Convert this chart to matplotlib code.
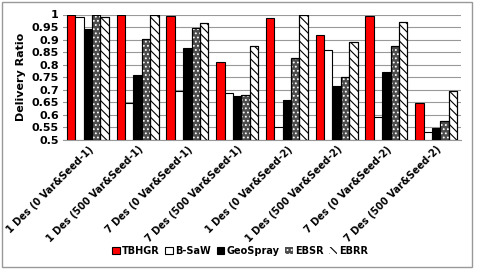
import numpy as np
import matplotlib
matplotlib.use("Agg")
import matplotlib.pyplot as plt
from matplotlib.patches import Rectangle, Patch

categories = ["1 Des (0 Var&Seed-1)", "1 Des (500 Var&Seed-1)", "7 Des (0 Var&Seed-1)",
              "7 Des (500 Var&Seed-1)", "1 Des (0 Var&Seed-2)", "1 Des (500 Var&Seed-2)",
              "7 Des (0 Var&Seed-2)", "7 Des (500 Var&Seed-2)"]
tbhgr = [1.0, 1.0, 0.995, 0.81, 0.985, 0.918, 0.995, 0.647]
bsaw = [0.99, 0.647, 0.697, 0.689, 0.553, 0.86, 0.59, 0.53]
geospray = [0.944, 0.76, 0.867, 0.674, 0.66, 0.716, 0.77, 0.547]
ebsr = [1.0, 0.903, 0.948, 0.68, 0.826, 0.75, 0.874, 0.575]
ebrr = [0.99, 1.0, 0.968, 0.876, 0.997, 0.89, 0.97, 0.695]
yticks = [0.5, 0.55, 0.6, 0.65, 0.7, 0.75, 0.8, 0.85, 0.9, 0.95, 1.0]

series = [("TBHGR", tbhgr), ("B-SaW", bsaw), ("GeoSpray", geospray), ("EBSR", ebsr), ("EBRR", ebrr)]
# face color, hatch, hatch color
styles = {
    "TBHGR": ("#ff0000", None, None),
    "B-SaW": ("white", None, None),
    "GeoSpray": ("black", None, None),
    "EBSR": ("#4d4d4d", "....", "white"),
    "EBRR": ("white", "\\\\\\\\", "black"),
}

plt.rcParams["font.family"] = "DejaVu Sans"
plt.rcParams["hatch.linewidth"] = 0.8

fig = plt.figure(figsize=(4.9, 2.73), dpi=100)
ax = fig.add_axes([63 / 490, 1 - 140 / 273, 398 / 490, 125.5 / 273])

x = np.arange(len(categories))
width = 0.168
for i, (name, vals) in enumerate(series):
    pos = x + (i - 2) * width
    fc, hatch, hc = styles[name]
    bottoms = np.full(len(vals), 0.5)
    heights = np.array(vals) - 0.5
    ax.bar(pos, heights, width, bottom=bottoms, color=fc, edgecolor="black", linewidth=0.8, zorder=3)
    if hatch:
        ax.bar(pos, heights, width, bottom=bottoms, color="none", edgecolor=hc, hatch=hatch,
               linewidth=0, zorder=4)
        ax.bar(pos, heights, width, bottom=bottoms, color="none", edgecolor="black", linewidth=0.8, zorder=5)

ax.set_xlim(-0.5, len(categories) - 0.5)
ax.set_ylim(0.5, 1.0)
ax.set_yticks(yticks)
ax.set_yticklabels([f"{t:g}" for t in yticks], fontsize=8, fontweight="bold")
ax.set_xticks(x)
ax.set_xticklabels(categories, rotation=45, ha="right", rotation_mode="anchor",
                   fontsize=7, fontweight="bold")
ax.tick_params(axis="both", length=0, pad=3)
ax.set_ylabel("Delivery Ratio", fontsize=8, fontweight="bold", labelpad=4)
ax.grid(axis="y", color="#999999", linewidth=0.8, zorder=0)
for s in ["top", "right", "left"]:
    ax.spines[s].set_visible(False)
ax.spines["bottom"].set_color("#999999")

handles = []
for name, _ in series:
    fc, hatch, hc = styles[name]
    if hatch:
        handles.append(Patch(facecolor=fc, edgecolor=hc, hatch=hatch, linewidth=0))
    else:
        handles.append(Patch(facecolor=fc, edgecolor="black", linewidth=0.8))
fig.legend(handles, [n for n, _ in series], loc="center", bbox_to_anchor=(240 / 490, 1 - 251 / 273),
           ncol=5, frameon=False, handlelength=0.8, handleheight=0.8,
           handletextpad=0.2, columnspacing=0.6, prop={"weight": "bold", "size": 7})

fig.patches.append(Rectangle((2 / 490, 1 - 267 / 273), 470 / 490, 265 / 273,
                             transform=fig.transFigure, fill=False, edgecolor="#999999", linewidth=1))

fig.savefig("out.png", dpi=100)
